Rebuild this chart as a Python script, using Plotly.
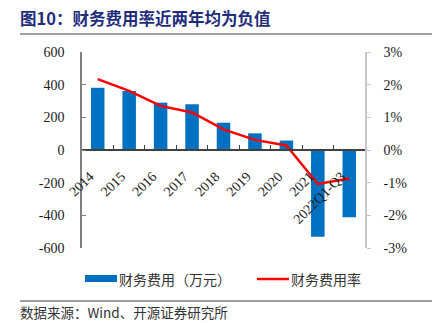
import plotly.graph_objects as go

categories = ["2014", "2015", "2016", "2017", "2018", "2019", "2020", "2021", "2022Q1-Q3"]
expense = [381, 361, 290, 280, 167, 102, 58, -531, -412]          # 财务费用（万元）
expense_rate = [2.17, 1.81, 1.35, 1.15, 0.63, 0.31, 0.14, -1.04, -0.87]  # 财务费用率 (%)

y1_ticks = [-600, -400, -200, 0, 200, 400, 600]
y1_text = ["-600", "-400", "-200", "0", "200", "400", "600"]
y2_ticks = [-3, -2, -1, 0, 1, 2, 3]
y2_text = ["-3%", "-2%", "-1%", "0%", "1%", "2%", "3%"]

title_text = "图10：财务费用率近两年均为负值"
legend_bar = "财务费用（万元）"
legend_line = "财务费用率"
source_text = "数据来源：Wind、开源证券研究所"

W, H = 434, 323
def px(x):
    return x / W
def py(y):
    return 1 - y / H

BLUE = "#0070C0"
RED = "#FF0000"
SERIF = "Liberation Serif, Times New Roman, serif"
CJK = "Noto Sans CJK SC, sans-serif"

ydom = [py(248), py(52)]

fig = go.Figure()
fig.add_trace(go.Bar(x=categories, y=expense, marker=dict(color=BLUE, line=dict(width=0)),
                     name=legend_bar, yaxis="y", showlegend=False))
fig.add_trace(go.Scatter(x=categories, y=expense_rate, mode="lines", line=dict(color=RED, width=2.5),
                         name=legend_line, yaxis="y2", showlegend=False))

fig.update_layout(
    width=W, height=H,
    margin=dict(l=0, r=0, t=0, b=0, autoexpand=False),
    paper_bgcolor="white", plot_bgcolor="white",
    bargap=0.57,
    xaxis=dict(domain=[px(82), px(365)], type="category", anchor="free", position=(ydom[0] + ydom[1]) / 2,
               showline=True, linecolor="#404040", linewidth=1.5, ticks="inside", tickson="boundaries",
               ticklen=4, tickcolor="#404040", tickangle=-45, showgrid=False, zeroline=False,
               ticklabelstandoff=12, ticklabelshift=-8, automargin=False,
               tickfont=dict(family=SERIF, size=14, color="#1a1a1a")),
    yaxis=dict(domain=ydom, range=[-600, 600], tickvals=y1_ticks, ticktext=y1_text,
               showline=True, linecolor="#808080", linewidth=1.5, ticks="inside", ticklen=4,
               tickcolor="#808080", showgrid=False, zeroline=False, ticklabelstandoff=13,
               automargin=False,
               tickfont=dict(family=SERIF, size=14, color="#1a1a1a")),
    yaxis2=dict(range=[-3, 3], tickvals=y2_ticks, ticktext=y2_text, overlaying="y", side="right",
                anchor="x", showline=True, linecolor="#c8c8c8", linewidth=1.5, ticks="outside",
                ticklen=4, tickcolor="#c8c8c8", showgrid=False, zeroline=False, ticklabelstandoff=10,
                automargin=False,
                tickfont=dict(family=SERIF, size=14, color="#1a1a1a")),
    showlegend=False,
)

shapes = [
    dict(type="line", xref="paper", yref="paper", x0=px(20), x1=px(432), y0=py(34), y1=py(34),
         line=dict(color="#404040", width=1)),
    dict(type="line", xref="paper", yref="paper", x0=px(20), x1=px(432), y0=py(301), y1=py(301),
         line=dict(color="#404040", width=1)),
    dict(type="rect", xref="paper", yref="paper", x0=px(85), x1=px(117), y0=py(282), y1=py(275),
         fillcolor=BLUE, line=dict(width=0)),
    dict(type="line", xref="paper", yref="paper", x0=px(257), x1=px(289), y0=py(279), y1=py(279),
         line=dict(color=RED, width=2.5)),
]
fig.update_layout(shapes=shapes)

annotations = [
    dict(text="<b>" + title_text + "</b>", xref="paper", yref="paper", x=px(18), y=py(18),
         xanchor="left", yanchor="middle", showarrow=False,
         font=dict(family=CJK, size=16.5, color="#1F2D7A")),
    dict(text=legend_bar, xref="paper", yref="paper", x=px(117), y=py(279),
         xanchor="left", yanchor="middle", showarrow=False,
         font=dict(family=CJK, size=14, color="#333333")),
    dict(text=legend_line, xref="paper", yref="paper", x=px(289), y=py(279),
         xanchor="left", yanchor="middle", showarrow=False,
         font=dict(family=CJK, size=14, color="#333333")),
    dict(text=source_text, xref="paper", yref="paper", x=px(18), y=py(312),
         xanchor="left", yanchor="middle", showarrow=False,
         font=dict(family=CJK, size=13.5, color="#333333")),
]
fig.update_layout(annotations=annotations)

fig.write_html("out.html")
